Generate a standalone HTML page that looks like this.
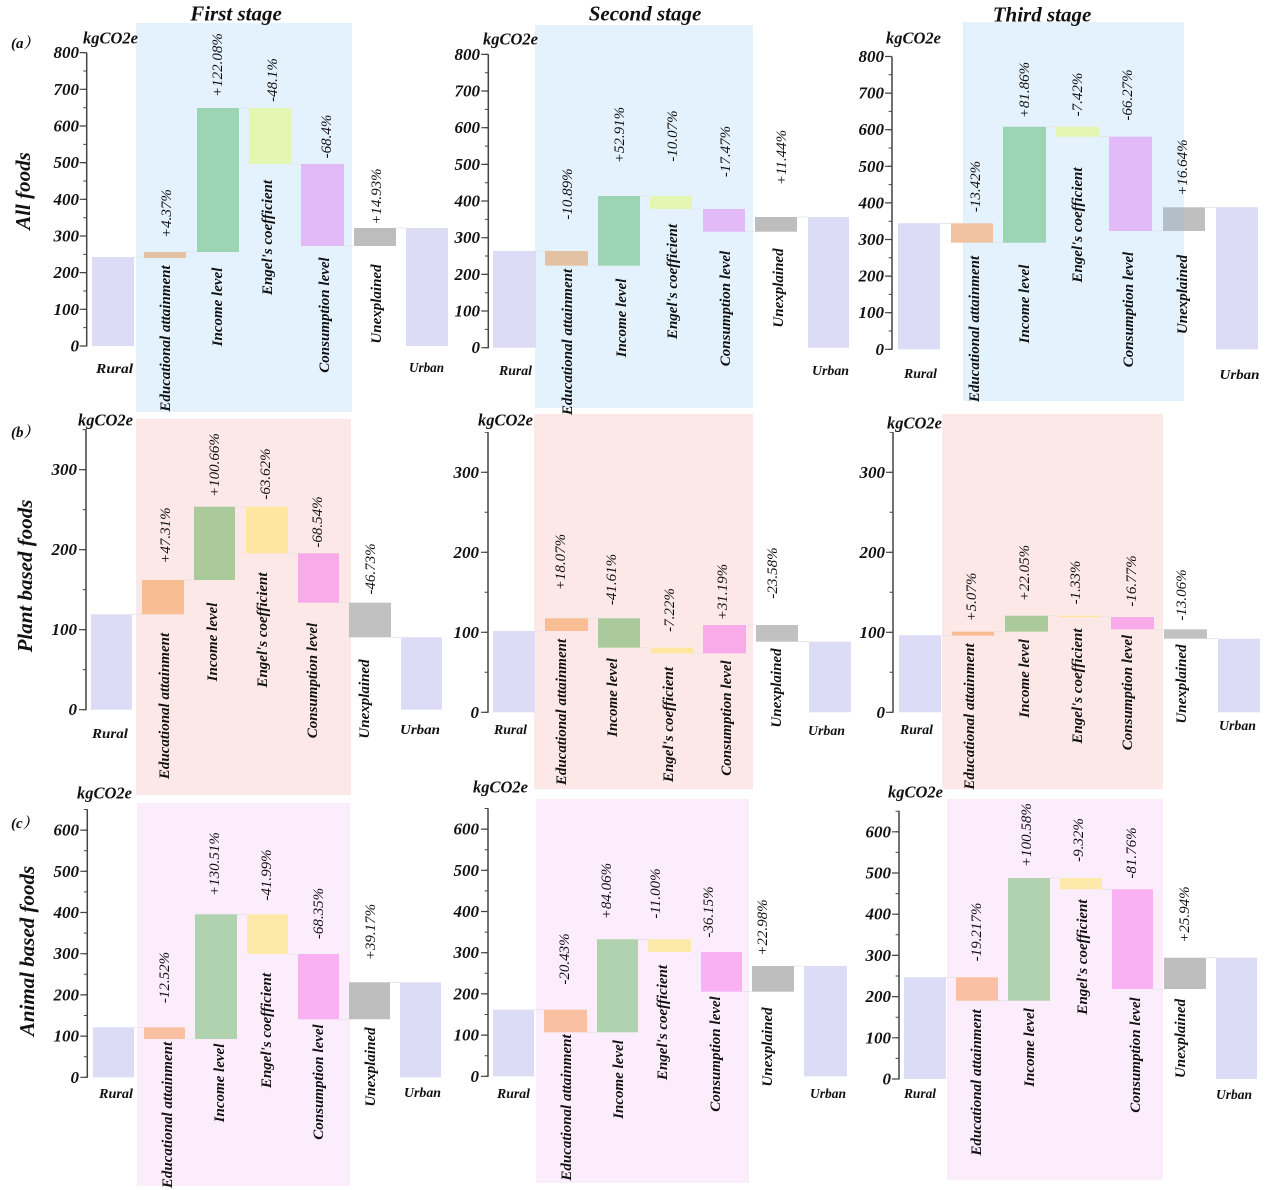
<!DOCTYPE html>
<html><head><meta charset="utf-8"><style>
html,body{margin:0;padding:0;background:#fff;}
svg{display:block;}
.bi{font-family:"Liberation Serif",serif;font-weight:700;font-style:italic;fill:#111;}
.tk{font-size:17px;text-anchor:end;}
.kg{font-size:16.5px;}
.ti{font-size:21px;text-anchor:middle;}
.rl{font-size:21px;text-anchor:middle;dominant-baseline:central;}
.c{font-size:15px;text-anchor:middle;dominant-baseline:central;}
.h{font-size:14px;text-anchor:middle;}
.p{font-family:"Liberation Serif",serif;font-style:italic;font-size:15px;text-anchor:middle;dominant-baseline:central;fill:#111;}
.ax{stroke:#444;stroke-width:1.5;fill:none;}
.cn{stroke:#e4e4e4;stroke-width:0.8;fill:none;}
</style></head><body>
<svg width="1267" height="1190" viewBox="0 0 1267 1190" xmlns="http://www.w3.org/2000/svg">
<!-- shades -->
<rect x="136" y="23" width="216" height="389" fill="#e3f2fd"/>
<rect x="535" y="25" width="218" height="383" fill="#e3f2fd"/>
<rect x="963" y="22" width="221" height="379" fill="#e3f2fd"/>
<rect x="136" y="419" width="215" height="376" fill="#fde8e8"/>
<rect x="534" y="414" width="219" height="375" fill="#fde8e8"/>
<rect x="942" y="414" width="221" height="375" fill="#fde8e8"/>
<rect x="137" y="803" width="213" height="383" fill="#fcedfc"/>
<rect x="536" y="799" width="213" height="384" fill="#fcedfc"/>
<rect x="947" y="799" width="216" height="381" fill="#fcedfc"/>

<!-- connectors -->
<path class="cn" d="M134,257H144 M186,252H197 M239,108H249 M291,164H301 M344,246H354 M396,228H406
M536,251H545 M588,265.7H598 M640,196H650 M692,209H703 M745,231.7H755 M797,217H808
M940,223.3H951 M993,242.7H1003 M1046,126.7H1056 M1099,136.7H1109 M1152,231H1163 M1205,207.3H1216
M132,614.3H142 M184,580H194 M235,506.7H246 M288,553.3H298 M339,602.7H349 M391,637.3H401
M535,631H545 M588,618.3H598 M640,647.7H651 M693,653.3H703 M746,625H756 M798,641.7H809
M941,635.3H952 M994,631.7H1005 M1048,615.7H1058 M1100,617H1111 M1154,629.3H1164 M1207,638.7H1218
M134,1027.3H144 M185,1039H195 M237,914.3H247 M288,954H298 M339,1019.3H349 M390,982.3H400
M534,1009.7H544 M587,1032.3H597 M638,939.3H648 M691,952H701 M742,991.7H752 M794,966H804
M946,977.3H956 M998,1000.7H1008 M1050,878H1060 M1102,889.3H1112 M1153,989H1164 M1206,957.7H1216"/>

<!-- ===== Row a bars ===== -->
<g>
<rect x="92" y="257" width="42" height="89" fill="#dcdcf6"/>
<rect x="144" y="252" width="42" height="6" fill="#e3c2a3"/>
<rect x="197" y="108" width="42" height="144" fill="#9cd5b3"/>
<rect x="249" y="108" width="42" height="56" fill="#e5f5b2"/>
<rect x="301" y="164" width="43" height="82" fill="#e2baf7"/>
<rect x="354" y="228" width="42" height="18" fill="#bdbdbd"/>
<rect x="406" y="228" width="42" height="118" fill="#dcdcf6"/>

<rect x="493" y="251" width="43" height="96.7" fill="#dcdcf6"/>
<rect x="545" y="251" width="43" height="14.7" fill="#e3c2a3"/>
<rect x="598" y="196" width="42" height="69.7" fill="#9cd5b3"/>
<rect x="650" y="196" width="42" height="13" fill="#e5f5b2"/>
<rect x="703" y="209" width="42" height="22.7" fill="#e2baf7"/>
<rect x="755" y="217" width="42" height="14.7" fill="#bdbdbd"/>
<rect x="808" y="217" width="41" height="130.7" fill="#dcdcf6"/>

<rect x="898" y="223.3" width="42" height="126" fill="#dcdcf6"/>
<rect x="951" y="223.3" width="42" height="19.4" fill="#f0c29f"/>
<rect x="1003" y="126.7" width="43" height="116" fill="#9cd5b3"/>
<rect x="1056" y="126.7" width="43" height="10" fill="#e5f5b2"/>
<rect x="1109" y="136.7" width="43" height="94.3" fill="#e2baf7"/>
<rect x="1163" y="207.3" width="21" height="23.7" fill="#b3bfc8"/>
<rect x="1184" y="207.3" width="21" height="23.7" fill="#bfbfbf"/>
<rect x="1216" y="207.3" width="42" height="142" fill="#dcdcf6"/>
</g>

<!-- ===== Row b bars ===== -->
<g>
<rect x="91" y="614.3" width="41" height="95.4" fill="#dcdcf6"/>
<rect x="142" y="580" width="42" height="34.3" fill="#f9bd94"/>
<rect x="194" y="506.7" width="41" height="73.3" fill="#abca9b"/>
<rect x="246" y="506.7" width="42" height="46.6" fill="#fee6a0"/>
<rect x="298" y="553.3" width="41" height="49.4" fill="#f8abe8"/>
<rect x="349" y="602.7" width="42" height="34.6" fill="#c1c1c1"/>
<rect x="401" y="637.3" width="41" height="72.4" fill="#dcdcf6"/>

<rect x="493" y="631" width="42" height="81.3" fill="#dcdcf6"/>
<rect x="545" y="618.3" width="43" height="12.7" fill="#f9bd94"/>
<rect x="598" y="618.3" width="42" height="29.4" fill="#abca9b"/>
<rect x="651" y="647.7" width="42" height="5.6" fill="#fee6a0"/>
<rect x="703" y="625" width="43" height="28.3" fill="#f8abe8"/>
<rect x="756" y="625" width="42" height="16.7" fill="#c1c1c1"/>
<rect x="809" y="641.7" width="42" height="70.6" fill="#dcdcf6"/>

<rect x="899" y="635.3" width="42" height="77" fill="#dcdcf6"/>
<rect x="952" y="631.7" width="42" height="4" fill="#f9bd94"/>
<rect x="1005" y="615.7" width="43" height="16" fill="#abca9b"/>
<rect x="1058" y="615.7" width="42" height="1.5" fill="#fee6a0"/>
<rect x="1111" y="617" width="43" height="12.3" fill="#f8abe8"/>
<rect x="1164" y="629.3" width="43" height="9.4" fill="#c1c1c1"/>
<rect x="1218" y="638.7" width="42" height="73.6" fill="#dcdcf6"/>
</g>

<!-- ===== Row c bars ===== -->
<g>
<rect x="93" y="1027.3" width="41" height="50" fill="#dcdcf6"/>
<rect x="144" y="1027.3" width="41" height="11.7" fill="#f9c0a2"/>
<rect x="195" y="914.3" width="42" height="124.7" fill="#b0d2ae"/>
<rect x="247" y="914.3" width="41" height="39.7" fill="#fde9a9"/>
<rect x="298" y="954" width="41" height="65.3" fill="#f9b1f4"/>
<rect x="349" y="982.3" width="41" height="37" fill="#bebebe"/>
<rect x="400" y="982.3" width="41" height="95" fill="#dcdcf6"/>

<rect x="493" y="1009.7" width="41" height="66.6" fill="#dcdcf6"/>
<rect x="544" y="1009.7" width="43" height="22.6" fill="#f9c0a2"/>
<rect x="597" y="939.3" width="41" height="93" fill="#b0d2ae"/>
<rect x="648" y="939.3" width="43" height="12.7" fill="#fde9a9"/>
<rect x="701" y="952" width="41" height="39.7" fill="#f9b1f4"/>
<rect x="752" y="966" width="42" height="25.7" fill="#bebebe"/>
<rect x="804" y="966" width="43" height="110.3" fill="#dcdcf6"/>

<rect x="904" y="977.3" width="42" height="101.7" fill="#dcdcf6"/>
<rect x="956" y="977.3" width="42" height="23.4" fill="#f9c0a2"/>
<rect x="1008" y="878" width="42" height="122.7" fill="#b0d2ae"/>
<rect x="1060" y="878" width="42" height="11.3" fill="#fde9a9"/>
<rect x="1112" y="889.3" width="41" height="99.7" fill="#f9b1f4"/>
<rect x="1164" y="957.7" width="42" height="31.3" fill="#bebebe"/>
<rect x="1216" y="957.7" width="41" height="121.3" fill="#dcdcf6"/>
</g>

<!-- ===== Axes ===== -->
<g>
<!-- a1 -->
<path class="ax" d="M86.7,52.7V346.5"/>
<path d="M83.2,346.6V50" stroke="#444" stroke-width="7" stroke-dasharray="1.2 35.47" fill="none"/>
<path d="M85,346.5V50" stroke="#444" stroke-width="3.4" stroke-dasharray="1 17.33" fill="none"/>
<!-- a2 -->
<path class="ax" d="M488.3,54.3V348.2"/>
<path d="M484.8,348.3V50" stroke="#444" stroke-width="7" stroke-dasharray="1.2 35.47" fill="none"/>
<path d="M486.6,348.2V50" stroke="#444" stroke-width="3.4" stroke-dasharray="1 17.33" fill="none"/>
<!-- a3 -->
<path class="ax" d="M892,56.7V349.8"/>
<path d="M888.5,349.9V52" stroke="#444" stroke-width="7" stroke-dasharray="1.2 35.4" fill="none"/>
<path d="M890.3,349.8V52" stroke="#444" stroke-width="3.4" stroke-dasharray="1 17.3" fill="none"/>
<!-- b1 -->
<path class="ax" d="M86,429V710.2"/>
<path d="M82.5,710.3V429" stroke="#444" stroke-width="7" stroke-dasharray="1.2 78.8" fill="none"/>
<path d="M84.3,710.2V429" stroke="#444" stroke-width="3.4" stroke-dasharray="1 39" fill="none"/>
<!-- b2 -->
<path class="ax" d="M488,432V712.8"/>
<path d="M484.5,712.9V432" stroke="#444" stroke-width="7" stroke-dasharray="1.2 78.8" fill="none"/>
<path d="M486.3,712.8V432" stroke="#444" stroke-width="3.4" stroke-dasharray="1 39" fill="none"/>
<!-- b3 -->
<path class="ax" d="M893,432V712.8"/>
<path d="M889.5,712.9V432" stroke="#444" stroke-width="7" stroke-dasharray="1.2 78.8" fill="none"/>
<path d="M891.3,712.8V432" stroke="#444" stroke-width="3.4" stroke-dasharray="1 39" fill="none"/>
<!-- c1 -->
<path class="ax" d="M87.3,809.3V1077.8"/>
<path d="M83.8,1077.9V809" stroke="#444" stroke-width="7" stroke-dasharray="1.2 40" fill="none"/>
<path d="M85.6,1077.8V809" stroke="#444" stroke-width="3.4" stroke-dasharray="1 19.6" fill="none"/>
<!-- c2 -->
<path class="ax" d="M488,808.3V1076.8"/>
<path d="M484.5,1076.9V808" stroke="#444" stroke-width="7" stroke-dasharray="1.2 40" fill="none"/>
<path d="M486.3,1076.8V808" stroke="#444" stroke-width="3.4" stroke-dasharray="1 19.6" fill="none"/>
<!-- c3 -->
<path class="ax" d="M899,810.7V1079.5"/>
<path d="M895.5,1079.6V810" stroke="#444" stroke-width="7" stroke-dasharray="1.2 40" fill="none"/>
<path d="M897.3,1079.5V810" stroke="#444" stroke-width="3.4" stroke-dasharray="1 19.6" fill="none"/>
</g>

<!-- ===== Tick labels ===== -->
<g class="bi tk" font-family="Liberation Serif" font-weight="700" font-style="italic">
<text x="79" y="58.2">800</text><text x="79" y="94.8">700</text><text x="79" y="131.5">600</text><text x="79" y="168.2">500</text><text x="79" y="204.8">400</text><text x="79" y="241.5">300</text><text x="79" y="278.2">200</text><text x="79" y="314.8">100</text><text x="79" y="351.5">0</text>
<text x="480" y="59.9">800</text><text x="480" y="96.6">700</text><text x="480" y="133.2">600</text><text x="480" y="169.9">500</text><text x="480" y="206.6">400</text><text x="480" y="243.2">300</text><text x="480" y="279.9">200</text><text x="480" y="316.6">100</text><text x="480" y="353.2">0</text>
<text x="884" y="62">800</text><text x="884" y="98.6">700</text><text x="884" y="135.2">600</text><text x="884" y="171.8">500</text><text x="884" y="208.4">400</text><text x="884" y="245">300</text><text x="884" y="281.6">200</text><text x="884" y="318.2">100</text><text x="884" y="354.8">0</text>
<text x="77" y="475.2">300</text><text x="77" y="555.2">200</text><text x="77" y="635.2">100</text><text x="77" y="715.2">0</text>
<text x="479" y="477.8">300</text><text x="479" y="557.8">200</text><text x="479" y="637.8">100</text><text x="479" y="717.8">0</text>
<text x="885" y="477.8">300</text><text x="885" y="557.8">200</text><text x="885" y="637.8">100</text><text x="885" y="717.8">0</text>
<text x="79" y="835.6">600</text><text x="79" y="876.8">500</text><text x="79" y="918">400</text><text x="79" y="959.2">300</text><text x="79" y="1000.4">200</text><text x="79" y="1041.6">100</text><text x="79" y="1082.8">0</text>
<text x="479" y="834.6">600</text><text x="479" y="875.8">500</text><text x="479" y="917">400</text><text x="479" y="958.2">300</text><text x="479" y="999.4">200</text><text x="479" y="1040.6">100</text><text x="479" y="1081.8">0</text>
<text x="891" y="837.3">600</text><text x="891" y="878.5">500</text><text x="891" y="919.7">400</text><text x="891" y="960.9">300</text><text x="891" y="1002.1">200</text><text x="891" y="1043.3">100</text><text x="891" y="1084.5">0</text>
</g>

<!-- kgCO2e -->
<g class="bi kg" font-family="Liberation Serif" font-weight="700" font-style="italic">
<text x="83" y="43.5">kgCO2e</text>
<text x="483" y="44.5">kgCO2e</text>
<text x="886" y="43.5">kgCO2e</text>
<text x="78" y="425.5">kgCO2e</text>
<text x="478" y="425.5">kgCO2e</text>
<text x="887" y="428.5">kgCO2e</text>
<text x="77" y="798.5">kgCO2e</text>
<text x="473" y="792.5">kgCO2e</text>
<text x="888" y="797.5">kgCO2e</text>
</g>

<!-- titles -->
<g class="bi ti">
<text x="236" y="20.5">First stage</text>
<text x="645" y="20.5">Second stage</text>
<text x="1042" y="21.5">Third stage</text>
</g>

<!-- row labels -->
<g class="bi rl">
<text transform="translate(23,191) rotate(-90)">All foods</text>
<text transform="translate(25,576) rotate(-90)">Plant based foods</text>
<text transform="translate(27,951) rotate(-90)">Animal based foods</text>
</g>
<g class="bi" style="font-size:15px;font-family:'Liberation Serif','Noto Serif CJK SC',serif">
<text x="11" y="48">(a）</text>
<text x="11" y="437">(b）</text>
<text x="11" y="828">(c）</text>
</g>

<!-- Rural / Urban -->
<g class="bi h">
<text x="114.5" y="373" textLength="37" lengthAdjust="spacingAndGlyphs">Rural</text>
<text x="426.5" y="372" textLength="35" lengthAdjust="spacingAndGlyphs">Urban</text>
<text x="515.5" y="375" textLength="33" lengthAdjust="spacingAndGlyphs">Rural</text>
<text x="830.5" y="375" textLength="37" lengthAdjust="spacingAndGlyphs">Urban</text>
<text x="920.5" y="378" textLength="33" lengthAdjust="spacingAndGlyphs">Rural</text>
<text x="1239.5" y="379" textLength="40" lengthAdjust="spacingAndGlyphs">Urban</text>
<text x="110" y="738" textLength="36" lengthAdjust="spacingAndGlyphs">Rural</text>
<text x="420" y="734" textLength="40" lengthAdjust="spacingAndGlyphs">Urban</text>
<text x="510.5" y="734" textLength="33" lengthAdjust="spacingAndGlyphs">Rural</text>
<text x="826.5" y="735" textLength="37" lengthAdjust="spacingAndGlyphs">Urban</text>
<text x="916.5" y="734" textLength="33" lengthAdjust="spacingAndGlyphs">Rural</text>
<text x="1237.5" y="730" textLength="37" lengthAdjust="spacingAndGlyphs">Urban</text>
<text x="116" y="1098" textLength="34" lengthAdjust="spacingAndGlyphs">Rural</text>
<text x="422.5" y="1097" textLength="37" lengthAdjust="spacingAndGlyphs">Urban</text>
<text x="513.5" y="1098" textLength="33" lengthAdjust="spacingAndGlyphs">Rural</text>
<text x="828" y="1098" textLength="36" lengthAdjust="spacingAndGlyphs">Urban</text>
<text x="920" y="1098" textLength="32" lengthAdjust="spacingAndGlyphs">Rural</text>
<text x="1234" y="1099" textLength="36" lengthAdjust="spacingAndGlyphs">Urban</text>
</g>

<!-- category labels (rotated) -->
<g class="bi c">
<text transform="translate(166,338.5) rotate(-90)">Educational attainment</text>
<text transform="translate(218,307) rotate(-90)">Income level</text>
<text transform="translate(268,237.5) rotate(-90)">Engel's coefficient</text>
<text transform="translate(325,315) rotate(-90)">Consumption level</text>
<text transform="translate(377,304) rotate(-90)">Unexplained</text>

<text transform="translate(568,342) rotate(-90)">Educational attainment</text>
<text transform="translate(622,318) rotate(-90)">Income level</text>
<text transform="translate(673,281.5) rotate(-90)">Engel's coefficient</text>
<text transform="translate(726,308.5) rotate(-90)">Consumption level</text>
<text transform="translate(779,288) rotate(-90)">Unexplained</text>

<text transform="translate(975,329) rotate(-90)">Educational attainment</text>
<text transform="translate(1025,304) rotate(-90)">Income level</text>
<text transform="translate(1078,225) rotate(-90)">Engel's coefficient</text>
<text transform="translate(1129,309.5) rotate(-90)">Consumption level</text>
<text transform="translate(1183,294.5) rotate(-90)">Unexplained</text>

<text transform="translate(165,706) rotate(-90)">Educational attainment</text>
<text transform="translate(213,642) rotate(-90)">Income level</text>
<text transform="translate(263,630) rotate(-90)">Engel's coefficient</text>
<text transform="translate(313,680.5) rotate(-90)">Consumption level</text>
<text transform="translate(365,699) rotate(-90)">Unexplained</text>

<text transform="translate(562,712) rotate(-90)">Educational attainment</text>
<text transform="translate(613,697.5) rotate(-90)">Income level</text>
<text transform="translate(669,724.5) rotate(-90)">Engel's coefficient</text>
<text transform="translate(727,718) rotate(-90)">Consumption level</text>
<text transform="translate(777,688) rotate(-90)">Unexplained</text>

<text transform="translate(970,716.5) rotate(-90)">Educational attainment</text>
<text transform="translate(1025,678.5) rotate(-90)">Income level</text>
<text transform="translate(1078,686) rotate(-90)">Engel's coefficient</text>
<text transform="translate(1128,692.5) rotate(-90)">Consumption level</text>
<text transform="translate(1182,684) rotate(-90)">Unexplained</text>

<text transform="translate(168,1115) rotate(-90)">Educational attainment</text>
<text transform="translate(220,1083) rotate(-90)">Income level</text>
<text transform="translate(267,1030.5) rotate(-90)">Engel's coefficient</text>
<text transform="translate(319,1082) rotate(-90)">Consumption level</text>
<text transform="translate(371,1067) rotate(-90)">Unexplained</text>

<text transform="translate(567,1107.5) rotate(-90)">Educational attainment</text>
<text transform="translate(619,1079.5) rotate(-90)">Income level</text>
<text transform="translate(663,1022.5) rotate(-90)">Engel's coefficient</text>
<text transform="translate(716,1054) rotate(-90)">Consumption level</text>
<text transform="translate(768,1047) rotate(-90)">Unexplained</text>

<text transform="translate(977,1082.5) rotate(-90)">Educational attainment</text>
<text transform="translate(1030,1047.5) rotate(-90)">Income level</text>
<text transform="translate(1083,957) rotate(-90)">Engel's coefficient</text>
<text transform="translate(1136,1055) rotate(-90)">Consumption level</text>
<text transform="translate(1181,1038.5) rotate(-90)">Unexplained</text>
</g>

<!-- percentage labels (rotated) -->
<g class="p">
<text transform="translate(167,213.5) rotate(-90)">+4.37%</text>
<text transform="translate(218,65) rotate(-90)">+122.08%</text>
<text transform="translate(273,80) rotate(-90)">-48.1%</text>
<text transform="translate(327,136.5) rotate(-90)">-68.4%</text>
<text transform="translate(377,196.5) rotate(-90)">+14.93%</text>

<text transform="translate(568,194) rotate(-90)">-10.89%</text>
<text transform="translate(620,135) rotate(-90)">+52.91%</text>
<text transform="translate(673,136) rotate(-90)">-10.07%</text>
<text transform="translate(726,151.5) rotate(-90)">-17.47%</text>
<text transform="translate(782,157.5) rotate(-90)">+11.44%</text>

<text transform="translate(976,186.5) rotate(-90)">-13.42%</text>
<text transform="translate(1025,90) rotate(-90)">+81.86%</text>
<text transform="translate(1078,94.5) rotate(-90)">-7.42%</text>
<text transform="translate(1128,95) rotate(-90)">-66.27%</text>
<text transform="translate(1183,167.5) rotate(-90)">+16.64%</text>

<text transform="translate(166,535.5) rotate(-90)">+47.31%</text>
<text transform="translate(215,465) rotate(-90)">+100.66%</text>
<text transform="translate(266,474) rotate(-90)">-63.62%</text>
<text transform="translate(318,522) rotate(-90)">-68.54%</text>
<text transform="translate(371,569) rotate(-90)">-46.73%</text>

<text transform="translate(561,562) rotate(-90)">+18.07%</text>
<text transform="translate(612,579.5) rotate(-90)">-41.61%</text>
<text transform="translate(670,610) rotate(-90)">-7.22%</text>
<text transform="translate(723,592) rotate(-90)">+31.19%</text>
<text transform="translate(773,573) rotate(-90)">-23.58%</text>

<text transform="translate(972,597) rotate(-90)">+5.07%</text>
<text transform="translate(1025,573) rotate(-90)">+22.05%</text>
<text transform="translate(1076,582.5) rotate(-90)">-1.33%</text>
<text transform="translate(1132,581) rotate(-90)">-16.77%</text>
<text transform="translate(1182,595) rotate(-90)">-13.06%</text>

<text transform="translate(165,977.5) rotate(-90)">-12.52%</text>
<text transform="translate(215,864) rotate(-90)">+130.51%</text>
<text transform="translate(267,875) rotate(-90)">-41.99%</text>
<text transform="translate(319,913.5) rotate(-90)">-68.35%</text>
<text transform="translate(371,932) rotate(-90)">+39.17%</text>

<text transform="translate(565,959) rotate(-90)">-20.43%</text>
<text transform="translate(607,891) rotate(-90)">+84.06%</text>
<text transform="translate(656,893.5) rotate(-90)">-11.00%</text>
<text transform="translate(709,912) rotate(-90)">-36.15%</text>
<text transform="translate(763,927.5) rotate(-90)">+22.98%</text>

<text transform="translate(977,932) rotate(-90)">-19.217%</text>
<text transform="translate(1027,835) rotate(-90)">+100.58%</text>
<text transform="translate(1079,840) rotate(-90)">-9.32%</text>
<text transform="translate(1132,853) rotate(-90)">-81.76%</text>
<text transform="translate(1185,914.5) rotate(-90)">+25.94%</text>
</g>
</svg>
</body></html>
